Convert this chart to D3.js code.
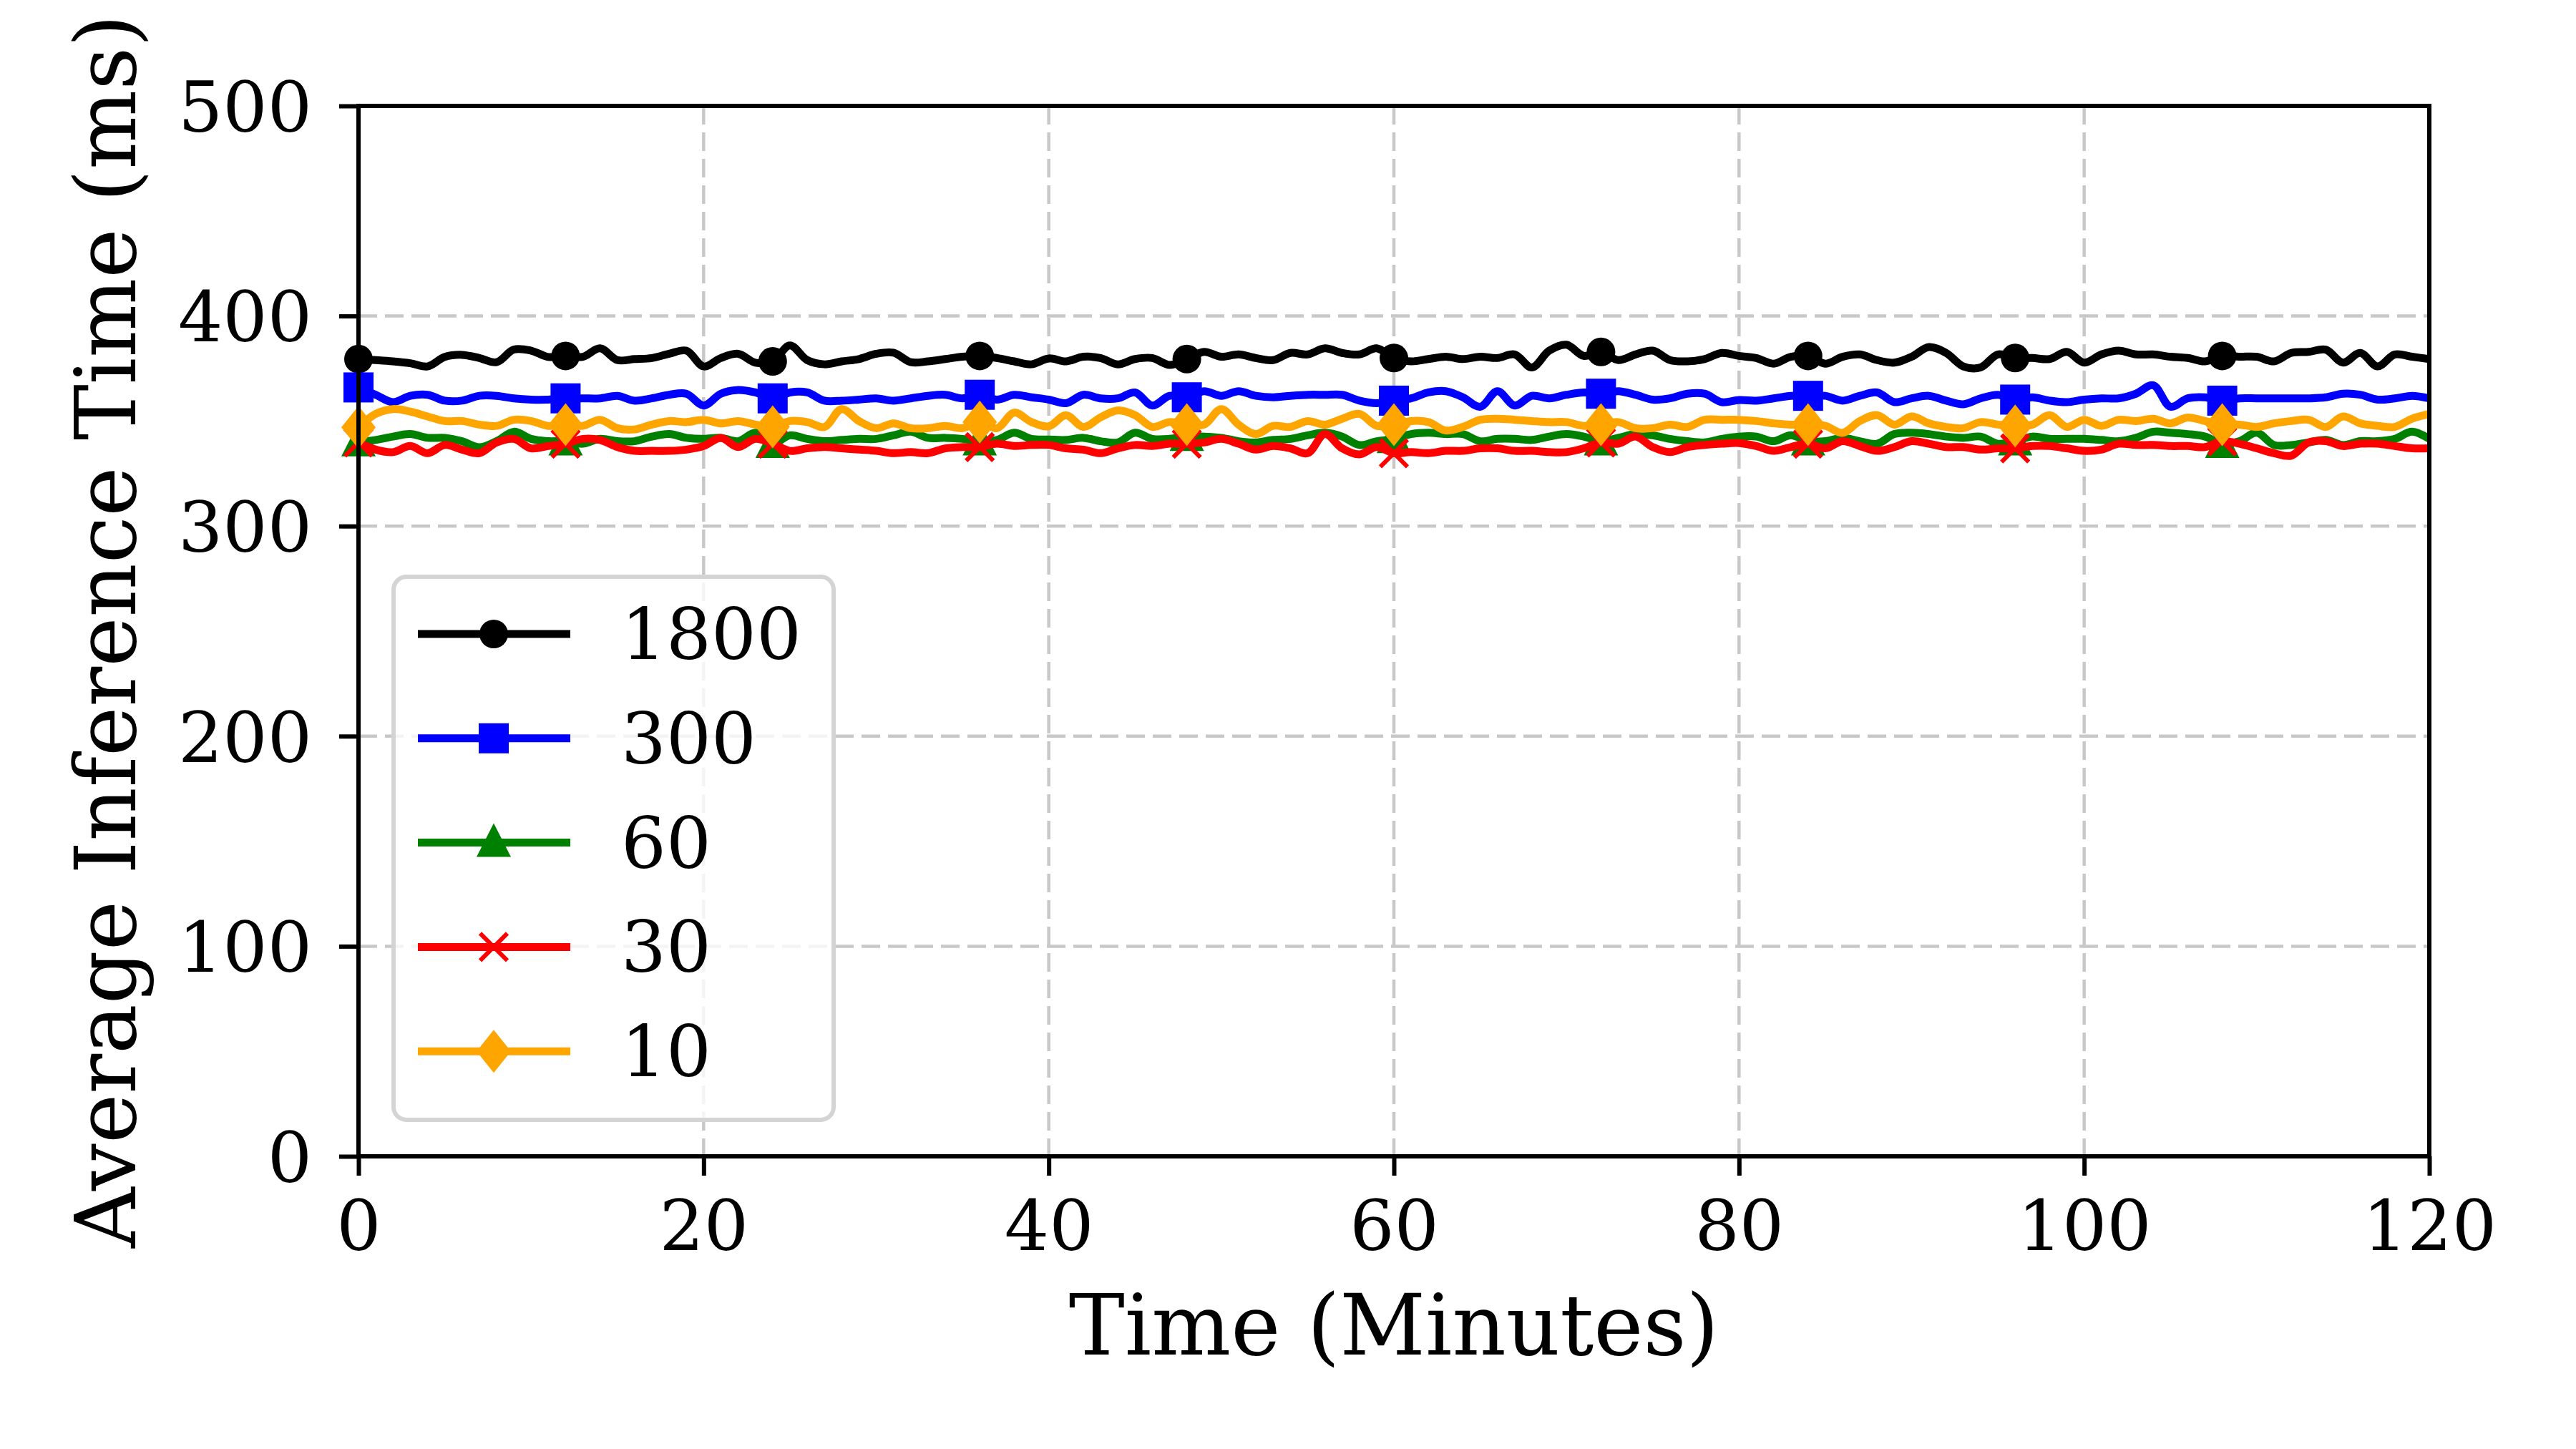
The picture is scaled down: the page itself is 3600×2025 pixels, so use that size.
<!DOCTYPE html>
<html>
<head>
<meta charset="utf-8">
<script src="https://cdn.jsdelivr.net/npm/d3@7"></script>
<style>
  body { margin: 0; background: #fff; }
  text { font-family: "DejaVu Serif", serif; }
</style>
</head>
<body>
<div id="chart"></div>
<script>
const minutes = d3.range(0, 121);
const markerMinutes = [0, 12, 24, 36, 48, 60, 72, 84, 96, 108];
const xTicks = [0, 20, 40, 60, 80, 100, 120];
const yTicks = [0, 100, 200, 300, 400, 500];

const labels = ["1800", "300", "60", "30", "10"];

const s1800 = [379.5, 379, 378.4, 377.5, 376, 380.5, 381.5, 380, 378, 384, 383.5,
  380.5, 381, 380.6, 384.6, 379, 379.5, 380, 382, 383.5, 376,
  380, 382, 377.8, 378.4, 386, 379, 377, 378.4, 379.5, 382,
  382.5, 378, 378.4, 379.5, 380.6, 381, 380, 378.4, 377, 379.8,
  378.4, 380.6, 380, 377, 379.5, 380, 376.7, 379.5, 382.9, 380.6,
  381.7, 380, 379, 382.4, 381.7, 384.6, 382.4, 381.7, 384.6, 380,
  378.4, 379.5, 380.6, 379.5, 380.6, 380, 381.7, 375.5, 383.5, 386.3,
  381, 382.9, 379, 381.7, 383.5, 379, 378.4, 379.5, 382.4, 381,
  380, 377.3, 380.6, 381, 377.3, 380.6, 381.7, 379, 377.8, 380.6,
  385.2, 382.4, 376, 375.5, 381.7, 380, 380, 379.5, 382.9, 377.8,
  381.7, 383.5, 381.7, 381.7, 380.6, 380, 378.4, 381, 380.6, 380.6,
  378.4, 382.4, 382.9, 384, 377.8, 382.4, 376, 381.7, 380.6, 379.5];

const s300 = [366, 362.5, 359, 362, 362.5, 359.7, 359.7, 362, 362, 360.8, 360.2,
  360.2, 360.8, 360.8, 360.8, 362, 359.7, 360.8, 362.5, 363, 357.4,
  363, 364.8, 363.6, 360.8, 363.6, 363.6, 359.7, 359.7, 360.2, 360.8,
  359.7, 360.8, 362, 362.5, 360.8, 362.5, 360.2, 362.5, 361.3, 360.2,
  358.5, 362.5, 360.8, 360.8, 363.6, 357.4, 362, 361.3, 364.2, 362,
  364.2, 362, 361.3, 362, 362.5, 362.5, 362.5, 359.7, 358.5, 359.7,
  360.8, 363.6, 364.2, 361.3, 356.8, 364.2, 357.4, 362, 360.8, 362.5,
  363.6, 363, 364.2, 362.5, 360.2, 360.8, 363, 363, 359, 360,
  359.7, 360.8, 362, 362, 362, 359.7, 362, 363.6, 359, 360.8,
  362, 359.7, 358, 360.8, 362.5, 360.2, 361.3, 359.7, 359, 360.2,
  360.8, 360.8, 363, 367, 356.8, 360.8, 361.3, 359.7, 360.8, 360.8,
  360.8, 360.8, 360.8, 361.3, 363, 362.5, 360.2, 360.8, 362, 360.8];

const s60 = [340, 341, 342.6, 343.8, 342, 342, 340.4, 337.5, 340.4, 344.9, 341.5,
  340.4, 340.4, 339.2, 341.5, 340.4, 340.4, 342.6, 343.8, 342, 341.5,
  342, 340.4, 344.4, 339.2, 343.2, 341.5, 340.4, 341, 341.5, 341.5,
  343.2, 344.9, 342, 342, 341.5, 340.4, 341, 344.4, 341.5, 341.2,
  341, 342, 340.4, 339.8, 344.4, 341.5, 341.5, 342.6, 342.6, 342,
  340.4, 339.8, 341, 341.5, 343.2, 344.4, 342.6, 338.6, 340.4, 341.5,
  343.8, 344.4, 343.8, 343.8, 340.4, 341.5, 341.5, 341, 342.6, 343.8,
  342.6, 340.4, 342, 343.8, 343.2, 341.5, 340.4, 339.8, 341.5, 342.6,
  342.6, 340.4, 343.2, 340.4, 340.4, 342, 340.4, 339.2, 343.8, 344.4,
  343.8, 342.6, 342, 342.6, 339.2, 340.4, 342.6, 341.5, 341.5, 341.5,
  341, 340.4, 342, 344.9, 344.4, 343.8, 342.6, 339.2, 340.4, 344.4,
  338.6, 338.6, 339.8, 341, 338.6, 340.4, 340.4, 341.5, 344.9, 341.5];

const s30 = [339.8, 336.4, 335.2, 338.1, 334.7, 338.6, 336.4, 334.7, 339.8, 341.5, 337,
  338.1, 339.2, 341.5, 341, 337.6, 335.8, 335.8, 335.8, 336.4, 338.1,
  342, 337.6, 341.5, 339.2, 335.8, 337, 337.6, 337, 336.4, 335.8,
  334.7, 335.2, 334.7, 337, 337.6, 337.6, 339.2, 338.1, 338.6, 338.6,
  337, 336.4, 334.7, 337, 338.6, 338.1, 339.2, 339.2, 339.8, 341.5,
  339.2, 336.4, 338.1, 337, 334.7, 343.8, 337, 334.1, 337.6, 334.7,
  335.2, 334.7, 335.8, 335.8, 337, 337, 335.8, 335.8, 335.2, 335.2,
  337, 339.8, 339.2, 342.6, 337.6, 335.2, 337.6, 338.6, 339.2, 339.5,
  338.1, 335.8, 337.6, 339.2, 337, 340.4, 338.1, 335.8, 337.6, 340.4,
  339.2, 337.6, 337.6, 336.4, 337, 337, 338.1, 338.1, 337, 335.8,
  336.4, 339.2, 338.6, 338.6, 338.1, 338.1, 337.6, 340.4, 339.2, 337,
  334.7, 333.5, 339.8, 340.4, 338.1, 339.2, 339.2, 338.1, 337, 337];

const s10 = [347, 353.4, 355.7, 354.5, 352.2, 350, 350, 348.3, 347.7, 350.6, 350,
  347.7, 348.3, 347.7, 350.6, 346.6, 346, 348.3, 350, 349.5, 350.6,
  348.9, 350, 348.3, 347.2, 350, 349.5, 347.2, 355.7, 350, 346.6,
  348.9, 346.6, 346.6, 347.7, 346.6, 349.5, 346.6, 354, 349.5, 347.5,
  352.8, 347.2, 351.7, 355.1, 352.8, 347.2, 349.5, 348.3, 348.3, 355.7,
  348.3, 343.8, 347.7, 347.2, 350, 348.3, 351.1, 353.4, 347.7, 348.3,
  350, 349.5, 345.5, 347.2, 350.6, 351.1, 350.6, 350, 349.5, 349.5,
  347.7, 348.3, 349.5, 346.6, 346.6, 348.3, 347.2, 350.6, 350.6, 350.6,
  350, 348.9, 348.3, 348.3, 347.7, 344.4, 350, 352.8, 348.3, 352.2,
  348.9, 347.2, 346.6, 349.5, 348.3, 347.7, 348.3, 352.8, 347.2, 350.6,
  347.7, 350.6, 350, 351.1, 348.9, 351.7, 350, 348.3, 348.3, 347.2,
  348.9, 350, 350.6, 347.2, 352.2, 348.9, 347.7, 347.2, 351.1, 353.4];

const seriesValues = [s1800, s300, s60, s30, s10];
const colors = ["#000000", "#0000ff", "#008000", "#ff0000", "#ffa500"];
const markers = ["circle", "square", "triangle", "x", "diamond"];

const width = 3600;
const height = 2025;
const plotLeft = 501, plotRight = 3395, plotTop = 148, plotBottom = 1616;

const svg = d3.select("#chart").append("svg")
    .attr("width", width)
    .attr("height", height);

const x = d3.scaleLinear().domain([0, 120]).range([plotLeft, plotRight]);
const y = d3.scaleLinear().domain([0, 500]).range([plotBottom, plotTop]);

// grid
const grid = svg.append("g").attr("class", "grid");
grid.selectAll(".gx")
    .data(xTicks)
    .enter()
    .append("line")
    .attr("x1", d => x(d)).attr("x2", d => x(d))
    .attr("y1", plotTop).attr("y2", plotBottom);
grid.selectAll(".gy")
    .data(yTicks)
    .enter()
    .append("line")
    .attr("x1", plotLeft).attr("x2", plotRight)
    .attr("y1", d => y(d)).attr("y2", d => y(d));
grid.selectAll("line")
    .attr("stroke", "#c8c8c8")
    .attr("stroke-width", 4.5)
    .attr("stroke-dasharray", "26,11");

function drawMarker(g, type, color) {
    if (type === "circle") {
        g.append("circle").attr("r", 20).attr("fill", color);
    } else if (type === "square") {
        g.append("rect").attr("x", -21).attr("y", -21)
            .attr("width", 42).attr("height", 42).attr("fill", color);
    } else if (type === "triangle") {
        g.append("path").attr("d", "M0,-27L24,20L-24,20Z").attr("fill", color);
    } else if (type === "diamond") {
        g.append("path").attr("d", "M0,-30L24,0L0,30L-24,0Z").attr("fill", color);
    } else {
        g.append("path").attr("d", "M-19,-19L19,19M-19,19L19,-19")
            .attr("stroke", color).attr("stroke-width", 6).attr("fill", "none");
    }
}

const line = d3.line()
    .x((d, i) => x(minutes[i]))
    .y(d => y(d))
    .curve(d3.curveCatmullRom.alpha(0.5));

const plot = svg.append("g").attr("class", "lines");
seriesValues.forEach((vals, k) => {
    const g = plot.append("g");
    g.append("path")
        .attr("d", line(vals))
        .attr("fill", "none")
        .attr("stroke", colors[k])
        .attr("stroke-width", 11)
        .attr("stroke-linejoin", "round");
    markerMinutes.forEach(m => {
        const mg = g.append("g")
            .attr("transform", `translate(${x(m)}, ${y(vals[minutes.indexOf(m)])})`);
        drawMarker(mg, markers[k], colors[k]);
    });
});

// axes
const xAxis = d3.axisBottom(x).tickValues(xTicks).tickSize(27).tickPadding(34);
const gx = svg.append("g")
    .attr("transform", `translate(0, ${plotBottom})`)
    .call(xAxis);
const yAxis = d3.axisLeft(y).tickValues(yTicks).tickSize(27).tickPadding(38);
const gy = svg.append("g")
    .attr("transform", `translate(${plotLeft}, 0)`)
    .call(yAxis);

[gx, gy].forEach(g => {
    g.select(".domain").remove();
    g.selectAll(".tick line").attr("stroke", "#000").attr("stroke-width", 6);
    g.selectAll(".tick text")
        .attr("fill", "#000")
        .style("font-family", "DejaVu Serif")
        .style("font-size", "98px");
});
gy.selectAll(".tick text").attr("dy", "0.36em");

// frame
svg.append("rect")
    .attr("x", plotLeft).attr("y", plotTop)
    .attr("width", plotRight - plotLeft).attr("height", plotBottom - plotTop)
    .attr("fill", "none")
    .attr("stroke", "#000")
    .attr("stroke-width", 6);

// axis labels
svg.append("text")
    .attr("x", (plotLeft + plotRight) / 2)
    .attr("y", 1893)
    .attr("text-anchor", "middle")
    .style("font-size", "117px")
    .text("Time (Minutes)");

svg.append("text")
    .attr("transform", `translate(189, ${(plotTop + plotBottom) / 2}) rotate(-90)`)
    .attr("text-anchor", "middle")
    .style("font-size", "117px")
    .text("Average Inference Time (ms)");

// legend
const legend = svg.append("g").attr("class", "legend");
legend.append("rect")
    .attr("x", 550).attr("y", 806)
    .attr("width", 615).attr("height", 759)
    .attr("rx", 18)
    .attr("fill", "#fff")
    .attr("fill-opacity", 0.8)
    .attr("stroke", "#d4d4d4")
    .attr("stroke-width", 6);

labels.forEach((lab, k) => {
    const rowY = 886 + k * 145.8;
    const row = legend.append("g").attr("transform", `translate(0, ${rowY})`);
    row.append("line")
        .attr("x1", 584).attr("x2", 797)
        .attr("y1", 0).attr("y2", 0)
        .attr("stroke", colors[k])
        .attr("stroke-width", 11);
    const mg = row.append("g").attr("transform", "translate(690, 0)");
    drawMarker(mg, markers[k], colors[k]);
    row.append("text")
        .attr("x", 868)
        .attr("y", 35)
        .style("font-size", "99px")
        .text(lab);
});
</script>
</body>
</html>
